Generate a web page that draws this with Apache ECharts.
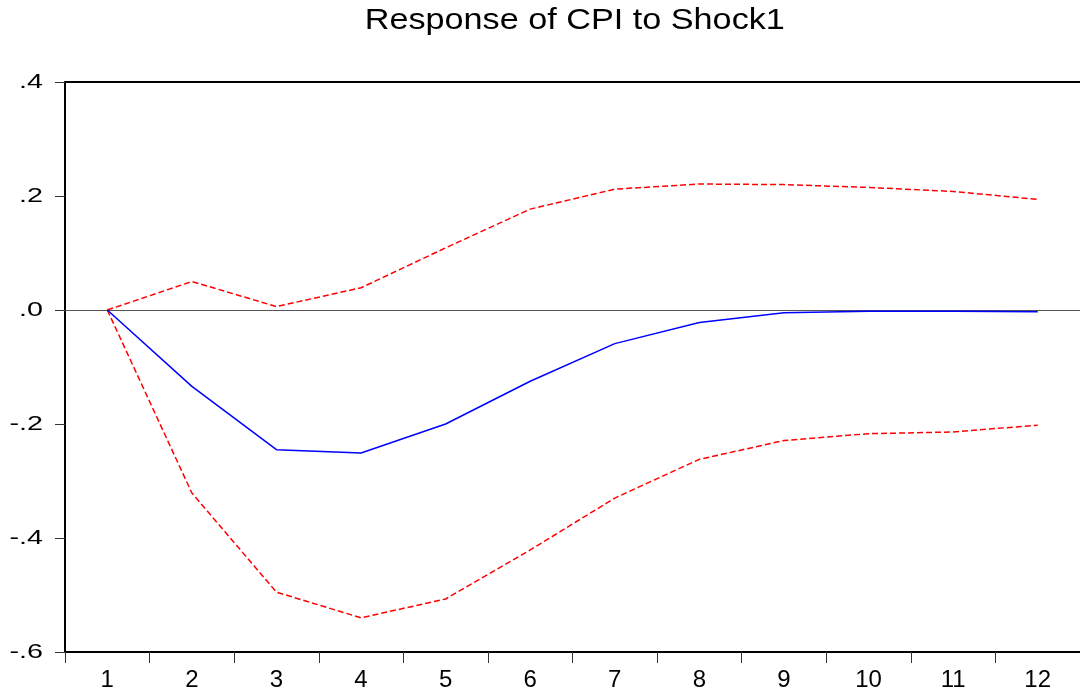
<!DOCTYPE html>
<html>
<head>
<meta charset="utf-8">
<script src="https://cdn.jsdelivr.net/npm/echarts@6/dist/echarts.min.js"></script>
<style>
  html, body { margin: 0; padding: 0; background: #fff; }
  #chart { width: 1080px; height: 696px; }
</style>
</head>
<body>
<div id="chart"></div>
<script>
// Impulse response horizon (periods)
const periods = ['1','2','3','4','5','6','7','8','9','10','11','12'];
// Point response of CPI
const response = [0.000, -0.134, -0.245, -0.251, -0.200, -0.125, -0.059, -0.022, -0.005, -0.002, -0.002, -0.003];
// Upper and lower +/- 2 S.E. bands
const upperBand = [0.000, 0.050, 0.006, 0.039, 0.109, 0.177, 0.212, 0.221, 0.220, 0.215, 0.208, 0.194];
const lowerBand = [0.000, -0.321, -0.495, -0.540, -0.507, -0.421, -0.330, -0.262, -0.229, -0.217, -0.214, -0.202];
// Y-axis tick labels, from -.6 up to .4
const yTickLabels = ['-.6', '-.4', '-.2', '.0', '.2', '.4'];
const chartTitle = 'Response of CPI to Shock1';

const FONT = '"Liberation Sans", Arial, sans-serif';
const chart = echarts.init(document.getElementById('chart'), null, { renderer: 'canvas' });

const yMin = -0.6, yStep = 0.2;
const gridLeft = 65;
const bandStyle = { color: '#ff0000', width: 1.5, type: [6, 3] };

// Wide-set text: a group scaled horizontally around its anchor point
function wideText(text, x, y, size, sx, align) {
  return {
    type: 'group', x: x, y: y, scaleX: sx,
    children: [{
      type: 'text',
      style: { text: text, x: 0, y: 0, align: align, verticalAlign: 'middle',
               fontFamily: FONT, fontSize: size, fill: '#000' }
    }]
  };
}

chart.setOption({
  animation: false,
  backgroundColor: '#ffffff',
  grid: { left: gridLeft, top: 82, width: 1020, height: 570 },
  xAxis: [{
    type: 'category',
    data: periods,
    boundaryGap: true,
    position: 'bottom',
    axisLine: { onZero: false, lineStyle: { color: '#000', width: 2 } },
    axisTick: { show: true, length: 11, inside: false, alignWithLabel: false, lineStyle: { color: '#333', width: 1 } },
    axisLabel: { color: '#000', fontFamily: FONT, fontSize: 24, margin: 16 },
    splitLine: { show: false }
  }, {
    type: 'category',
    data: periods,
    position: 'top',
    axisLine: { onZero: false, lineStyle: { color: '#000', width: 2 } },
    axisTick: { show: false },
    axisLabel: { show: false },
    splitLine: { show: false }
  }],
  yAxis: {
    type: 'value',
    min: yMin, max: 0.4, interval: yStep,
    axisLine: { show: true, onZero: false, lineStyle: { color: '#000', width: 2 } },
    axisTick: { show: true, length: 10, lineStyle: { color: '#333', width: 1 } },
    axisLabel: { show: false },
    splitLine: { show: false }
  },
  series: [{
    name: 'Response',
    type: 'line',
    data: response,
    symbol: 'none',
    lineStyle: { color: '#0000ff', width: 1.5 },
    z: 5,
    markLine: {
      silent: true,
      symbol: ['none', 'none'],
      label: { show: false },
      lineStyle: { color: '#555', width: 1.2, type: 'solid' },
      data: [{ yAxis: 0 }],
      z: 1
    }
  }, {
    name: 'Upper',
    type: 'line',
    data: upperBand,
    symbol: 'none',
    lineStyle: bandStyle,
    z: 4
  }, {
    name: 'Lower',
    type: 'line',
    data: lowerBand,
    symbol: 'none',
    lineStyle: bandStyle,
    z: 4
  }]
});

// Title centred over the plot, and y tick labels placed at the axis' own tick positions
const plotLeft = chart.convertToPixel({ xAxisIndex: 0 }, periods[0]) - 1020 / periods.length / 2;
const plotRight = plotLeft + 1020;
const graphics = [wideText(chartTitle, (plotLeft + plotRight) / 2, 21, 30, 1.14, 'center')];
yTickLabels.forEach(function (lab, i) {
  const py = chart.convertToPixel({ yAxisIndex: 0 }, yMin + i * yStep);
  graphics.push(wideText(lab, gridLeft - 22, py, 20.5, 1.4, 'right'));
});
chart.setOption({ graphic: graphics });
</script>
</body>
</html>
